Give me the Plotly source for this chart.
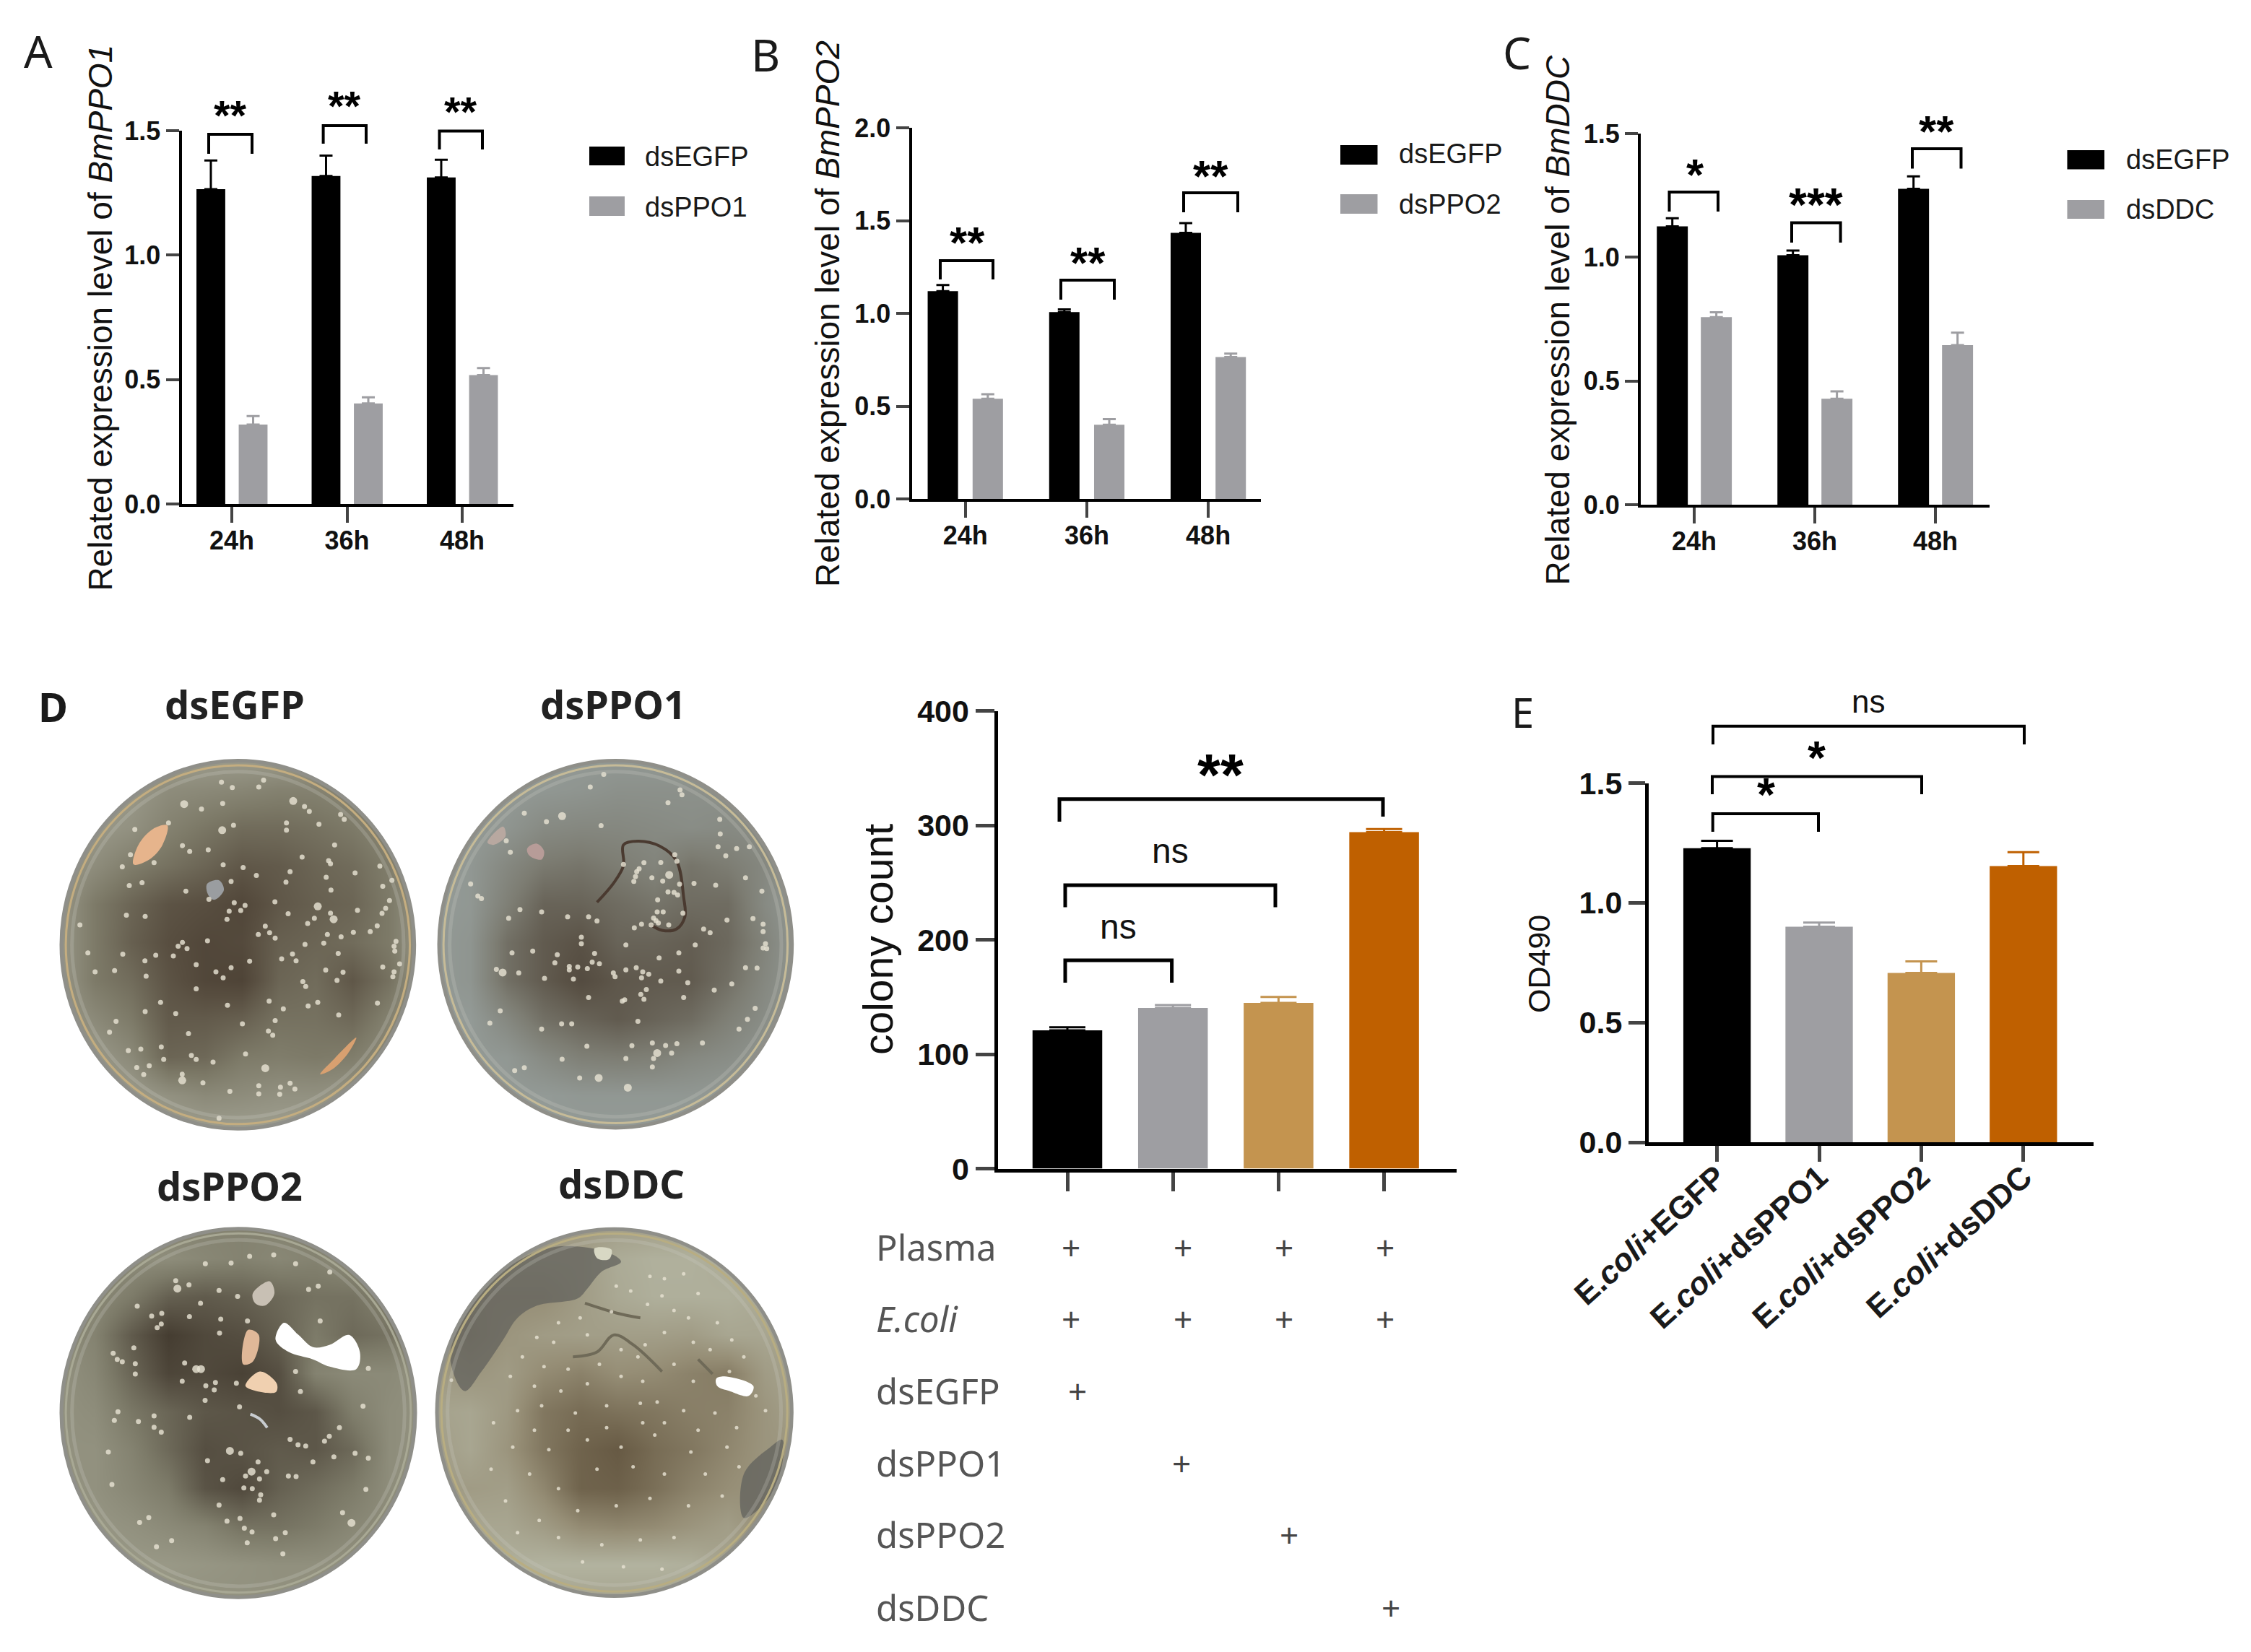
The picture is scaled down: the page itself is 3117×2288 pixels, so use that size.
import numpy as np
import plotly.graph_objects as go

W = 3117
H = 2288

# ---- panels A, B, C : expression levels
times = ["24h", "36h", "48h"]
ppo1_egfp = [1.265, 1.318, 1.312]
ppo1_egfp_err = [0.115, 0.082, 0.071]
ppo1_ds = [0.319, 0.404, 0.518]
ppo1_ds_err = [0.034, 0.025, 0.028]

ppo2_egfp = [1.12, 1.007, 1.435]
ppo2_egfp_err = [0.033, 0.015, 0.052]
ppo2_ds = [0.54, 0.40, 0.765]
ppo2_ds_err = [0.025, 0.03, 0.019]

ddc_egfp = [1.125, 1.008, 1.277]
ddc_egfp_err = [0.033, 0.019, 0.05]
ddc_ds = [0.758, 0.428, 0.645]
ddc_ds_err = [0.02, 0.03, 0.05]

# ---- panel D and E bars
colony_groups = ["dsEGFP", "dsPPO1", "dsPPO2", "dsDDC"]
colony_count = [120.8, 140.4, 144.8, 294]
colony_err = [2.7, 2.6, 5.2, 2.7]

od_groups = ["<b>E.<i>coli</i>+EGFP</b>", "<b>E.<i>coli</i>+dsPPO1</b>", "<b>E.<i>coli</i>+dsPPO2</b>", "<b>E.<i>coli</i>+dsDDC</b>"]
od490 = [1.228, 0.90, 0.707, 1.153]
od490_err = [0.031, 0.017, 0.048, 0.058]

# ---- table under the colony count bars
table_rows = ["Plasma", "<i>E.coli</i>", "dsEGFP", "dsPPO1", "dsPPO2", "dsDDC"]
table_row_y = [1727, 1826, 1926, 2026, 2125, 2226]
table_plus_x = [[1483, 1638, 1778, 1918], [1483, 1638, 1778, 1918], [1492], [1636], [1785], [1926]]

# ---- plate photographs, read as brightness grids (rows top to bottom)
plate_egfp = [
    [.75, .75, .75, .75, .75, .75, .75, .75, .75, .75, .75],
    [.70, .70, .70, .62, .60, .58, .55, .55, .58, .65, .70],
    [.70, .70, .65, .55, .48, .42, .42, .45, .50, .58, .70],
    [.70, .62, .52, .45, .38, .30, .32, .38, .42, .52, .70],
    [.70, .50, .38, .28, .25, .20, .30, .35, .38, .50, .70],
    [.70, .50, .35, .25, .20, .22, .35, .38, .42, .50, .70],
    [.70, .50, .42, .28, .20, .18, .38, .42, .30, .45, .70],
    [.70, .60, .50, .32, .32, .35, .45, .45, .40, .55, .70],
    [.70, .70, .60, .38, .40, .50, .52, .50, .52, .62, .70],
    [.72, .72, .72, .65, .60, .62, .65, .65, .68, .70, .72],
    [.75, .75, .75, .75, .75, .75, .75, .75, .75, .75, .75],
]
plate_ppo1 = [
    [.72, .72, .72, .72, .72, .72, .72, .72, .72, .72, .72],
    [.72, .72, .72, .70, .68, .65, .65, .65, .65, .68, .72],
    [.72, .72, .68, .60, .58, .58, .60, .62, .60, .62, .72],
    [.72, .70, .58, .48, .45, .50, .55, .45, .50, .58, .72],
    [.72, .70, .52, .35, .35, .40, .45, .40, .40, .60, .72],
    [.72, .68, .42, .30, .25, .35, .35, .32, .38, .55, .72],
    [.72, .68, .42, .30, .20, .28, .30, .30, .42, .58, .70],
    [.72, .72, .58, .42, .35, .30, .35, .40, .52, .62, .72],
    [.72, .72, .70, .60, .52, .50, .52, .58, .62, .68, .72],
    [.72, .72, .72, .72, .70, .70, .70, .70, .72, .72, .72],
    [.72, .72, .72, .72, .72, .72, .72, .72, .72, .72, .72],
]
plate_ppo2 = [
    [.55, .55, .55, .55, .55, .55, .55, .55, .55, .55, .55],
    [.60, .60, .62, .62, .58, .55, .58, .55, .62, .62, .60],
    [.62, .60, .50, .35, .32, .35, .40, .45, .45, .55, .62],
    [.62, .55, .32, .15, .22, .25, .35, .50, .40, .45, .62],
    [.65, .58, .38, .20, .22, .18, .25, .55, .60, .60, .65],
    [.65, .62, .48, .38, .30, .28, .25, .30, .52, .62, .65],
    [.65, .65, .55, .40, .25, .28, .32, .30, .40, .62, .65],
    [.65, .65, .58, .50, .28, .22, .35, .42, .50, .62, .65],
    [.65, .68, .65, .60, .55, .45, .45, .50, .58, .62, .65],
    [.65, .68, .70, .70, .68, .66, .64, .64, .65, .65, .65],
    [.65, .65, .65, .65, .65, .65, .65, .65, .65, .65, .65],
]
plate_ddc = [
    [.60, .60, .60, .60, .60, .60, .60, .60, .60, .60, .60],
    [.60, .60, .60, .60, .60, .72, .76, .76, .72, .60, .60],
    [.55, .50, .50, .50, .60, .70, .75, .75, .75, .70, .60],
    [.55, .45, .55, .60, .62, .62, .62, .60, .68, .68, .60],
    [.60, .55, .60, .48, .42, .50, .48, .42, .38, .60, .68],
    [.65, .68, .58, .35, .28, .32, .35, .40, .42, .55, .65],
    [.60, .68, .55, .35, .22, .15, .28, .35, .45, .55, .55],
    [.60, .60, .62, .45, .22, .20, .30, .42, .50, .55, .50],
    [.65, .68, .68, .60, .48, .45, .48, .55, .62, .50, .60],
    [.65, .68, .75, .78, .78, .78, .78, .75, .65, .60, .65],
    [.65, .65, .65, .65, .65, .65, .65, .65, .65, .65, .65],
]

colonies_egfp = [(680,128),(725,150),(835,148),(855,120),(597,238),(685,215),(1025,228),(1045,248),(1175,260),(1190,280),(730,305),(950,295),(950,325),(1085,300),(460,295),(320,322),(518,388),(548,412),(625,405),(1150,385),(1015,435),(1125,450),(1133,462),(302,425),(400,458),(268,475),(687,467),(770,478),(825,510),(965,495),(1115,518),(1235,500),(1338,472),(1388,530),(1350,555),(297,552),(350,540),(532,575),(720,535),(948,538),(1135,570),(628,608),(902,618),(1378,613),(778,633),(733,622),(760,654),(712,657),(1245,653),(1362,645),(1347,666),(285,673),(363,678),(957,667),(1133,665),(1066,686),(703,690),(1038,707),(92,713),(1327,717),(1298,740),(1228,743),(862,718),(880,745),(833,752),(903,767),(1120,752),(1177,762),(622,778),(1105,788),(1027,793),(518,785),(500,800),(537,810),(1405,780),(1397,800),(1400,820),(125,828),(270,833),(407,837),(480,840),(975,832),(1165,830),(362,860),(930,852),(990,860),(797,862),(575,876),(720,888),(1420,873),(1350,885),(155,905),(236,900),(657,905),(1113,898),(1185,907),(1397,905),(1392,925),(367,923),(687,930),(1160,940),(1018,945),(1030,965),(575,975),(1040,1045),(1080,1030),(427,1030),(705,1042),(878,1025),(937,1057),(1328,1033),(363,1068),(490,1076),(1167,1082),(242,1108),(767,1118),(903,1105),(215,1152),(875,1148),(893,1165),(543,1158),(430,1213),(293,1228),(345,1222),(780,1242),(555,1248),(575,1264),(440,1264),(645,1275),(328,1297),(380,1290),(357,1326),(517,1325),(603,1360),(965,1362),(835,1372),(925,1378),(985,1385),(715,1395),(835,1405),(922,1407),(670,1505)]
colonies_egfp_big = [(978,205),(683,325),(1080,637),(1146,690),(862,1300),(517,1350),(525,218)]
colonies_ppo1 = [(708,96),(652,148),(1025,160),(1033,180),(975,212),(470,290),(697,306),(1190,280),(1192,340),(378,255),(303,368),(320,415),(1183,393),(1260,400),(1313,393),(1215,430),(1003,425),(1012,452),(945,457),(875,458),(790,465),(855,483),(845,495),(840,515),(908,520),(1297,520),(833,535),(953,533),(1023,546),(1083,543),(1173,550),(155,545),(185,595),(200,605),(1365,575),(975,578),(1000,580),(1015,590),(932,610),(450,660),(930,660),(955,660),(1037,665),(360,650),(313,686),(558,680),(645,680),(680,697),(915,685),(925,695),(935,705),(1220,693),(1328,687),(1370,710),(865,710),(905,713),(978,713),(835,725),(1123,730),(1150,745),(1370,740),(615,763),(615,790),(800,795),(1088,795),(1380,790),(1370,808),(1385,810),(327,828),(413,820),(515,835),(670,830),(1020,828),(938,848),(505,868),(660,865),(690,872),(565,883),(600,885),(640,892),(565,897),(843,888),(262,895),(355,910),(800,897),(1297,888),(1345,890),(1020,902),(870,905),(895,915),(748,910),(755,925),(462,932),(582,935),(865,930),(945,943),(1057,950),(1240,955),(885,978),(1167,980),(645,1010),(862,998),(875,1018),(1040,1010),(785,1025),(795,1020),(278,1065),(1337,1055),(850,1108),(235,1115),(450,1140),(533,1118),(575,1118),(1270,1140),(1305,1100),(910,1197),(1012,1200),(965,1207),(1118,1197),(825,1208),(638,1210),(990,1238),(535,1263),(800,1260),(915,1260),(910,1295),(378,1298),(338,1310),(608,1340)]
colonies_ppo1_big = [(535,267),(980,508),(288,908),(930,1238),(687,1340),(808,1380)]
colonies_ppo2 = [(797,148),(897,142),(613,178),(720,175),(988,178),(1130,212),(490,248),(545,265),(670,288),(1042,283),(1082,270),(747,312),(593,340),(330,352),(432,382),(390,393),(547,395),(677,405),(788,413),(1090,413),(430,425),(413,440),(672,462),(316,523),(230,545),(247,570),(268,580),(322,588),(527,585),(322,630),(988,620),(1290,607),(517,660),(655,665),(615,678),(650,695),(742,668),(1008,702),(612,738),(755,765),(1268,762),(250,785),(400,802),(548,808),(235,820),(335,825),(400,848),(430,868),(1170,850),(1128,885),(965,898),(1108,905),(998,920),(1030,925),(210,950),(760,955),(1235,955),(1147,970),(1290,975),(622,985),(832,990),(1060,990),(868,1030),(780,1048),(838,1060),(958,1048),(990,1050),(685,1063),(225,1083),(773,1097),(808,1100),(1280,1103),(843,1125),(838,1147),(670,1167),(1183,1198),(897,1207),(378,1218),(340,1238),(703,1233),(757,1222),(775,1262),(807,1277),(945,1280),(905,1305),(473,1313),(787,1322),(410,1338),(935,1367)]
colonies_ppo2_big = [(497,280),(575,610),(595,610),(715,945),(805,1030),(1220,1240)]
colonies_ddc = [(900,230),(960,240),(1040,220),(760,270),(820,290),(950,310),(1100,300),(1000,370),(890,345),(740,375),(1060,400),(1180,420),(520,420),(610,400),(430,480),(500,500),(880,510),(640,470),(780,530),(960,460),(1080,500),(1240,490),(370,560),(460,600),(560,610),(690,590),(850,560),(1000,590),(1150,530),(1290,560),(320,640),(420,680),(530,700),(640,670),(780,640),(870,660),(1080,660),(1230,620),(350,780),(450,760),(590,790),(720,760),(860,750),(930,745),(1040,780),(1170,790),(1340,720),(250,830),(420,860),(560,860),(720,850),(870,830),(960,830),(1100,860),(1260,850),(1380,780),(330,930),(480,940),(640,900),(780,930),(920,880),(1070,950),(1220,930),(240,1020),(400,1040),(520,1100),(680,1020),(830,1010),(960,1040),(1130,1040),(1270,1010),(300,1150),(440,1230),(600,1190),(760,1170),(900,1140),(1060,1170),(1200,1130),(350,1280),(520,1300),(700,1330),(860,1310),(1000,1300),(620,1400),(790,1420),(950,1430),(75,655)]

BLACK = "#000000"
GREY = "#9e9ea2"
TAN = "#c4944f"
ORANGE = "#bf6000"
SANS = "Liberation Sans"
NOTO = "Noto Sans"

fig = go.Figure()
shapes = []
notes = []


def px(x):
    return x / W


def py(y):
    return 1 - y / H


def text(x, y, s, size, font=SANS, color="#000000", angle=0, xanchor="center", bold=False):
    if bold:
        s = "<b>" + s + "</b>"
    notes.append(dict(x=px(x), y=py(y), xref="paper", yref="paper", text=s, showarrow=False,
                      xanchor=xanchor, yanchor="middle", textangle=angle,
                      font=dict(family=font, size=size, color=color)))


def stars(x, y, s, size):
    # the asterisk sits high in its line box, so push the box down
    text(x, y + 0.12 * size, s, size, bold=True)


def bracket(x0, x1, top, left_end, right_end, width=4):
    path = f"M {px(x0)} {py(left_end)} L {px(x0)} {py(top)} L {px(x1)} {py(top)} L {px(x1)} {py(right_end)}"
    shapes.append(dict(type="path", path=path, xref="paper", yref="paper",
                       line=dict(color="#000000", width=width)))


def swatch(x0, x1, y0, y1, color):
    shapes.append(dict(type="rect", x0=px(x0), x1=px(x1), y0=py(y0), y1=py(y1), xref="paper", yref="paper",
                       fillcolor=color, line=dict(width=0)))


def axes(n, left, right, top, bottom, xrange, ytop, yticks, tickvals, ticktext,
         yfont, xfont, lw, ylen, xlen, ylabels=None, tickangle=0, standoff=0):
    fig.layout[f"xaxis{n}"] = dict(
        domain=[px(left), px(right)], range=xrange, anchor=f"y{n}", tickmode="array",
        tickvals=tickvals, ticktext=ticktext, ticks="outside", ticklen=xlen, tickwidth=lw,
        showline=True, linecolor="#000000", linewidth=lw, showgrid=False, zeroline=False,
        tickfont=xfont, tickangle=tickangle, fixedrange=True, automargin=False, ticklabelstandoff=standoff)
    fig.layout[f"yaxis{n}"] = dict(
        domain=[py(bottom), py(top)], range=[0, ytop], anchor=f"x{n}", tickmode="array",
        tickvals=yticks, ticktext=ylabels if ylabels else [str(v) for v in yticks],
        ticks="outside", ticklen=ylen, tickwidth=lw,
        showline=True, linecolor="#000000", linewidth=lw, showgrid=False, zeroline=False,
        tickfont=yfont, fixedrange=True, automargin=False)


def add_bar(n, x, y, err, color, offset, width, cap):
    fig.add_trace(go.Bar(x=x, y=y, marker=dict(color=color, line=dict(width=0)), width=width, offset=offset,
                         error_y=dict(type="data", array=err, arrayminus=[0] * len(err), symmetric=False,
                                      color=color, thickness=3, width=cap),
                         xaxis=f"x{n}", yaxis=f"y{n}", showlegend=False))


tick_bold = dict(family=SANS, size=36, color="#111111")
time_x = [0, 1, 2]

# panel A
axes(1, 251.5, 711, 181, 698, [(251.5 - 321) / 159.5, (711 - 321) / 159.5], 1.5, [0.0, 0.5, 1.0, 1.5],
     time_x, ["<b>%s</b>" % t for t in times], dict(tick_bold), dict(tick_bold), 4, 18, 22,
     ylabels=["<b>0.0</b>", "<b>0.5</b>", "<b>1.0</b>", "<b>1.5</b>"], standoff=-6)
add_bar(1, time_x, ppo1_egfp, ppo1_egfp_err, BLACK, -0.307, 0.25, 9)
add_bar(1, time_x, ppo1_ds, ppo1_ds_err, GREY, 0.06, 0.25, 9)

# panel B
axes(2, 1262.5, 1746, 177.3, 691, [(1262.5 - 1336.7) / 168.2, (1746 - 1336.7) / 168.2], 2.0,
     [0.0, 0.5, 1.0, 1.5, 2.0], time_x, ["<b>%s</b>" % t for t in times], dict(tick_bold), dict(tick_bold),
     4, 18, 22, ylabels=["<b>0.0</b>", "<b>0.5</b>", "<b>1.0</b>", "<b>1.5</b>", "<b>2.0</b>"], standoff=-6)
add_bar(2, time_x, ppo2_egfp, ppo2_egfp_err, BLACK, -0.31, 0.25, 9)
add_bar(2, time_x, ppo2_ds, ppo2_ds_err, GREY, 0.06, 0.25, 9)

# panel C
axes(3, 2272, 2755, 185, 699, [(2272 - 2346) / 167, (2755 - 2346) / 167], 1.5, [0.0, 0.5, 1.0, 1.5],
     time_x, ["<b>%s</b>" % t for t in times], dict(tick_bold), dict(tick_bold), 4, 18, 22,
     ylabels=["<b>0.0</b>", "<b>0.5</b>", "<b>1.0</b>", "<b>1.5</b>"], standoff=-6)
add_bar(3, time_x, ddc_egfp, ddc_egfp_err, BLACK, -0.31, 0.257, 9)
add_bar(3, time_x, ddc_ds, ddc_ds_err, GREY, 0.055, 0.257, 9)

# panel D bars, x labels are the table below so none here
bar_colors = [BLACK, GREY, TAN, ORANGE]
axes(4, 1381.5, 2017, 984.6, 1618.5, [(1381.5 - 1478) / 146.2, (2017 - 1478) / 146.2], 400, [0, 100, 200, 300, 400],
     [0, 1, 2, 3], ["", "", "", ""], dict(family=SANS, size=43, color="#111111"), dict(family=SANS, size=10),
     5, 26, 26, ylabels=["<b>%d</b>" % v for v in [0, 100, 200, 300, 400]])
for i, name in enumerate(colony_groups):
    add_bar(4, [i], [colony_count[i]], [colony_err[i]], bar_colors[i], -0.33, 0.66, 25)

# panel E
axes(5, 2283, 2899, 1084.5, 1582, [(2283 - 2377.6) / 141.4, (2899 - 2377.6) / 141.4], 1.5, [0.0, 0.5, 1.0, 1.5],
     [0, 1, 2, 3], od_groups, dict(family=SANS, size=43, color="#111111"),
     dict(family=SANS, size=44, color="#1a1a1a"), 5, 23, 22,
     ylabels=["<b>0.0</b>", "<b>0.5</b>", "<b>1.0</b>", "<b>1.5</b>"], tickangle=-42, standoff=-22)
for i, name in enumerate(od_groups):
    add_bar(5, [i], [od490[i]], [od490_err[i]], bar_colors[i], -0.33, 0.66, 22)

# y titles
text(138.6, 440, "Related expression level of <i>BmPPO1</i>", 46, color="#111111", angle=-90)
text(1146, 435, "Related expression level of <i>BmPPO2</i>", 46, color="#111111", angle=-90)
text(2156.6, 443, "Related expression level of <i>BmDDC</i>", 46, color="#111111", angle=-90)
text(1216, 1301, "colony count", 57, color="#111111", angle=-90)
text(2131, 1335, "OD490", 43, color="#111111", angle=-90)

# significance brackets
bracket(289, 349, 186, 213, 213)
bracket(447.6, 507, 174, 199, 199)
bracket(608.5, 668, 181.6, 207, 207)
stars(319, 153, "**", 58)
stars(477, 140, "**", 58)
stars(638, 148, "**", 58)

bracket(1302, 1375, 361, 387, 387)
bracket(1469, 1543, 388, 415, 415)
bracket(1639, 1714, 267, 294, 294)
stars(1339, 328, "**", 62)
stars(1506, 356, "**", 62)
stars(1676, 236, "**", 62)

bracket(2311.5, 2379, 266, 293, 293)
bracket(2481, 2548.6, 308.5, 336, 336)
bracket(2648, 2715.5, 206, 233.5, 233.5)
stars(2347, 234, "*", 62)
stars(2514, 276, "***", 64)
stars(2681, 174, "**", 62)

bracket(1467, 1915, 1106.7, 1138, 1131, width=5)
bracket(1475, 1766, 1226, 1256.5, 1256.5, width=5)
bracket(1475, 1622.6, 1330, 1361, 1361, width=5)
stars(1690, 1062.5, "**", 82)
text(1620, 1178.6, "ns", 48, color="#111111")
text(1548.6, 1283, "ns", 48, color="#111111")

bracket(2372, 2803, 1005.7, 1031, 1031)
bracket(2371, 2661, 1075.4, 1100, 1100)
bracket(2371.7, 2518, 1127, 1152, 1152)
text(2587, 971, "ns", 44, color="#111111")
stars(2515, 1042, "*", 64)
stars(2445, 1093.6, "*", 64)

# legends
for x0, x1, y0, y1, x_text, y_text, label, color in [
    (816, 865, 203, 229, 891, 217, "dsEGFP", BLACK), (816, 865, 272, 299, 891, 286.5, "dsPPO1", GREY),
    (1856, 1907.5, 201, 228, 1935, 213, "dsEGFP", BLACK), (1856, 1907.5, 269, 296, 1935, 283, "dsPPO2", GREY),
    (2862.5, 2914, 208, 234.6, 2942, 220.7, "dsEGFP", BLACK), (2862.5, 2914, 277, 303, 2942, 290, "dsDDC", GREY),
]:
    swatch(x0, x1, y0, y1, color)
    text(x_text, y_text, label, 38, color="#1a1a1a", xanchor="left")

# table under panel D
for label, y, plus_x in zip(table_rows, table_row_y, table_plus_x):
    text(1211, y, label, 49, font=NOTO, color="#555555", xanchor="left")
    for x in plus_x:
        text(x, y, "+", 46, font=NOTO, color="#444444")

# panel letters and plate titles
text(53, 70, "A", 62, font=NOTO, color="#1a1a1a")
text(1060, 75, "B", 62, font=NOTO, color="#1a1a1a")
text(2100, 72, "C", 62, font=NOTO, color="#1a1a1a")
text(73, 978, "D", 56, font=NOTO, color="#1a1a1a", bold=True)
text(2108, 986, "E", 56, font=NOTO, color="#1a1a1a")
text(325, 975, "dsEGFP", 54, font=NOTO, color="#222222", bold=True)
text(849, 975, "dsPPO1", 54, font=NOTO, color="#222222", bold=True)
text(318, 1642, "dsPPO2", 54, font=NOTO, color="#222222", bold=True)
text(860, 1638.5, "dsDDC", 54, font=NOTO, color="#222222", bold=True)

# ---- plates, each on hidden axes in the units of its crop
SCALE_EGFP = [[0, "rgb(55,42,32)"], [.25, "rgb(88,78,64)"], [.5, "rgb(125,122,104)"], [.75, "rgb(160,160,145)"], [1, "rgb(200,200,190)"]]
SCALE_PPO1 = [[0, "rgb(60,50,42)"], [.25, "rgb(90,82,70)"], [.5, "rgb(125,125,115)"], [.75, "rgb(150,158,155)"], [1, "rgb(185,190,180)"]]
SCALE_PPO2 = [[0, "rgb(45,35,25)"], [.25, "rgb(85,78,65)"], [.5, "rgb(125,123,105)"], [.75, "rgb(160,160,142)"], [1, "rgb(190,192,178)"]]
SCALE_DDC = [[0, "rgb(85,70,50)"], [.25, "rgb(115,103,80)"], [.5, "rgb(150,142,118)"], [.75, "rgb(175,175,155)"], [1, "rgb(200,203,190)"]]

CROP_W = 1530
CROP_H = 1568
grid_x = np.linspace(0, CROP_W, 11)
grid_y = np.linspace(0, CROP_H, 11)

patches = {
    6: [([(315, 465), (335, 385), (395, 320), (455, 305), (435, 385), (380, 445)], "#e6b48c"),
        ([(1090, 1325), (1150, 1260), (1240, 1175), (1205, 1240), (1140, 1305)], "#d8a070"),
        ([(620, 545), (670, 530), (690, 570), (650, 610), (625, 590)], "#9a9da0")],
    7: [([(390, 400), (430, 380), (460, 410), (450, 445), (400, 430)], "#b79c98"),
        ([(225, 375), (290, 310), (300, 350), (250, 385)], "#b8a8a0")],
    8: [([(905, 490), (940, 420), (1000, 470), (1060, 520), (1130, 510), (1210, 470), (1255, 540), (1240, 610), (1130, 600), (1060, 570), (960, 540)], "#ffffff"),
        ([(780, 680), (840, 620), (910, 670), (905, 705)], "#f0d0b0"),
        ([(770, 590), (790, 450), (835, 470), (810, 580)], "#e0b898"),
        ([(810, 300), (880, 250), (900, 300), (860, 350), (820, 340)], "#c8c0b4")],
    9: [([(130, 700), (200, 620), (290, 490), (350, 400), (430, 350), (600, 320), (640, 280), (700, 210), (780, 170), (720, 130), (500, 110), (300, 200), (140, 380), (70, 560)], "rgba(95,95,92,0.72)"),
        ([(1290, 1040), (1400, 930), (1450, 900), (1420, 1100), (1290, 1220)], "rgba(100,100,95,0.8)"),
        ([(1175, 650), (1210, 640), (1330, 680), (1310, 720), (1230, 700), (1180, 680)], "#ffffff"),
        ([(670, 115), (740, 120), (730, 160), (680, 155)], "#d8d8c4")],
}

curves = {
    6: [],
    7: [[(680, 620), (750, 540), (790, 470), (790, 385), (850, 370), (940, 390), (1010, 450), (1040, 600), (1045, 680), (1010, 730), (950, 735), (900, 710)]],
    8: [[(800, 795), (840, 815), (870, 850)]],
    9: [[(630, 340), (760, 380), (860, 400)], [(580, 560), (680, 540), (750, 470), (830, 510), (950, 620)], [(1100, 570), (1160, 630)]],
}
curve_colors = {6: "#3f352c", 7: "#4a3a30", 8: "#c8ccd0", 9: "#6f6a58"}

plates = [
    (6, 80, 1040, plate_egfp, SCALE_EGFP, colonies_egfp, colonies_egfp_big, (748, 794, 733, 754), "#c4ad80"),
    (7, 600, 1040, plate_ppo1, SCALE_PPO1, colonies_ppo1, colonies_ppo1_big, (757, 792, 733, 752), "#c6bb98"),
    (8, 80, 1690, plate_ppo2, SCALE_PPO2, colonies_ppo2, colonies_ppo2_big, (750, 790, 735, 755), "#a8a894"),
    (9, 600, 1690, plate_ddc, SCALE_DDC, colonies_ddc, [], (752, 788, 737, 752), "#b8ad82"),
]

theta = np.linspace(0, 2 * np.pi, 181)
for n, left, top, grid, scale, small, big, (cx, cy, rx, ry), rim in plates:
    fig.layout[f"xaxis{n}"] = dict(domain=[px(left), px(left + 510)], range=[0, CROP_W], visible=False,
                                   anchor=f"y{n}", fixedrange=True, automargin=False)
    fig.layout[f"yaxis{n}"] = dict(domain=[py(top + 530), py(top)], range=[CROP_H, 0], visible=False,
                                   anchor=f"x{n}", fixedrange=True, automargin=False)
    fig.add_trace(go.Heatmap(x=grid_x, y=grid_y, z=grid, zmin=0, zmax=1, colorscale=scale, zsmooth="best",
                             showscale=False, hoverinfo="skip", xaxis=f"x{n}", yaxis=f"y{n}"))
    for outline, color in patches[n]:
        xs, ys = zip(*(outline + outline[:1]))
        fig.add_trace(go.Scatter(x=xs, y=ys, mode="lines", fill="toself", fillcolor=color,
                                 line=dict(width=0, shape="spline", smoothing=1.0),
                                 hoverinfo="skip", showlegend=False, xaxis=f"x{n}", yaxis=f"y{n}"))
    for curve in curves[n]:
        xs, ys = zip(*curve)
        fig.add_trace(go.Scatter(x=xs, y=ys, mode="lines", line=dict(color=curve_colors[n], width=4, shape="spline"),
                                 hoverinfo="skip", showlegend=False, xaxis=f"x{n}", yaxis=f"y{n}"))
    for points, size in ((small, 5 if n == 9 else 7), (big, 11)):
        if points:
            xs, ys = zip(*points)
            fig.add_trace(go.Scatter(x=xs, y=ys, mode="markers", hoverinfo="skip", showlegend=False,
                                     marker=dict(size=size, color="#e6e2d2", line=dict(width=0), opacity=0.82),
                                     xaxis=f"x{n}", yaxis=f"y{n}"))
    # white mask with a hole, in paper units so it can overhang the crop edges
    sx = 510 / CROP_W
    sy = 530 / CROP_H
    ring = [(px(left + (cx + rx * np.cos(t)) * sx), py(top + (cy + ry * np.sin(t)) * sy)) for t in theta]
    hole = "M " + " L ".join(f"{a:.5f} {b:.5f}" for a, b in ring) + " Z"
    outer = f"M {px(left - 8)} {py(top - 8)} L {px(left + 518)} {py(top - 8)} L {px(left + 518)} {py(top + 538)} L {px(left - 8)} {py(top + 538)} Z"
    shapes.append(dict(type="path", path=outer + " " + hole, xref="paper", yref="paper", fillcolor="#ffffff",
                       fillrule="evenodd", line=dict(width=0), layer="above"))
    for k, color, width in ((1.0, "#8f8f89", 5), (0.975, rim, 3), (0.94, "rgba(205,205,195,0.25)", 5)):
        shapes.append(dict(type="circle", xref=f"x{n}", yref=f"y{n}", x0=cx - k * rx, x1=cx + k * rx,
                           y0=cy - k * ry, y1=cy + k * ry, line=dict(color=color, width=width)))

fig.update_layout(width=W, height=H, margin=dict(l=0, r=0, t=0, b=0), paper_bgcolor="white",
                  plot_bgcolor="white", showlegend=False, barmode="overlay", shapes=shapes, annotations=notes)

fig.write_html("out.html", config={"displayModeBar": False}, post_script="document.body.style.margin='0';")
